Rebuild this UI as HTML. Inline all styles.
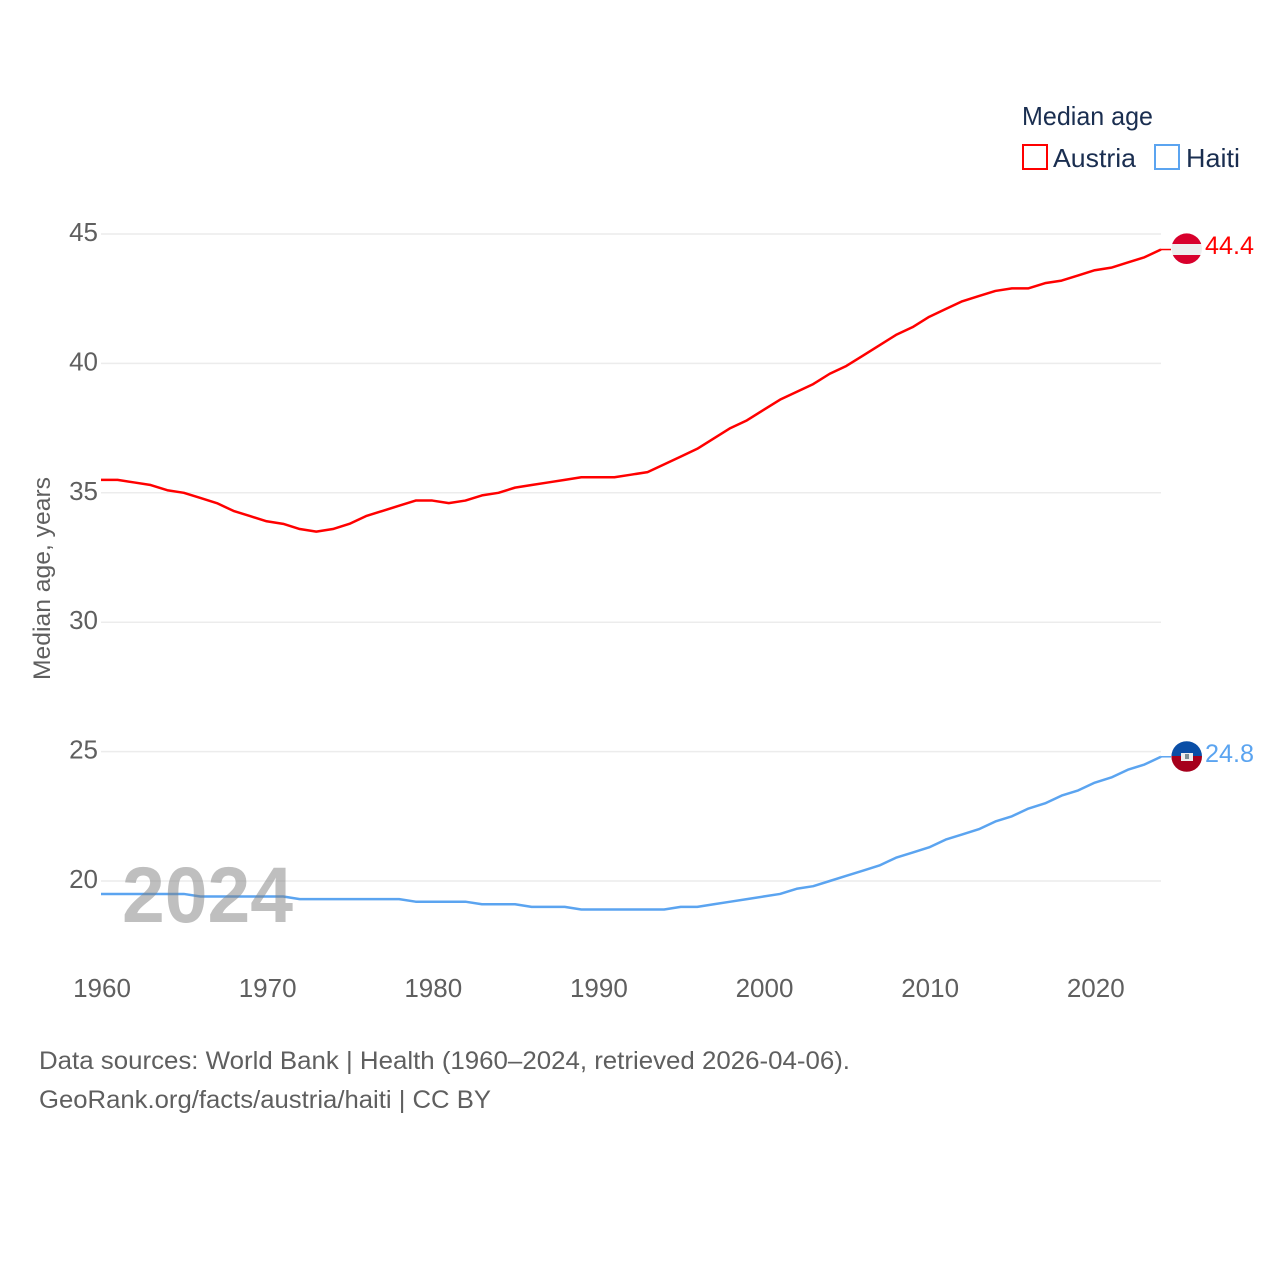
<!DOCTYPE html>
<html lang="en">
<head>
<meta charset="utf-8">
<title>Median age: Austria and Haiti</title>
<style>
html,body{margin:0;padding:0;background:#fff;width:1280px;height:1280px;overflow:hidden}
svg{display:block;font-family:"Liberation Sans",sans-serif}
</style>
</head>
<body>
<svg id="chart" xmlns="http://www.w3.org/2000/svg" width="1280" height="1280" viewBox="0 0 1280 1280">
  <defs>
    <clipPath id="austria-clip"><circle cx="1186.7" cy="248.7" r="15.3"/></clipPath>
    <clipPath id="haiti-clip"><circle cx="1186.7" cy="756.5" r="15.3"/></clipPath>
  </defs>
  <g id="grid"></g>
  <g id="yticks"></g>
  <g id="xticks"></g>
  <text transform="translate(50,680) rotate(-90)" font-size="24" fill="#5f5f5f" textLength="203" lengthAdjust="spacingAndGlyphs">Median age, years</text>
  <g id="series"></g>
  <text x="122" y="922" font-size="79" font-weight="bold" fill="#808080" fill-opacity="0.5" textLength="171" lengthAdjust="spacingAndGlyphs">2024</text>

  <g clip-path="url(#austria-clip)">
    <rect x="1171" y="233" width="32" height="11" fill="#d8002c"/>
    <rect x="1171" y="244" width="32" height="11" fill="#eeeeee"/>
    <rect x="1171" y="255" width="32" height="10" fill="#d8002c"/>
  </g>
  <g clip-path="url(#haiti-clip)">
    <rect x="1171" y="741" width="32" height="15" fill="#0a4ea6"/>
    <rect x="1171" y="756" width="32" height="17" fill="#a6001c"/>
    <rect x="1181" y="753" width="12" height="8" fill="#eeeeee"/>
    <rect x="1185" y="754" width="4" height="5" fill="#7d8f96"/>
  </g>
  <text id="austria-end-label" x="1205" y="254" font-size="25" fill="#ff0000" textLength="49" lengthAdjust="spacingAndGlyphs"></text>
  <text id="haiti-end-label" x="1205" y="762" font-size="25" fill="#5ba4f0" textLength="49" lengthAdjust="spacingAndGlyphs"></text>

  <g>
    <text x="1022" y="125" font-size="26" fill="#1a2e50" textLength="131" lengthAdjust="spacingAndGlyphs">Median age</text>
    <g>
      <rect x="1023" y="145" width="24" height="24" fill="#fff" stroke="#ff0000" stroke-width="2"/>
      <text x="1053" y="167" font-size="26" fill="#1a2e50" textLength="83" lengthAdjust="spacingAndGlyphs">Austria</text>
    </g>
    <g>
      <rect x="1155" y="145" width="24" height="24" fill="#fff" stroke="#5ba4f0" stroke-width="2"/>
      <text x="1186" y="167" font-size="26" fill="#1a2e50" textLength="54" lengthAdjust="spacingAndGlyphs">Haiti</text>
    </g>
  </g>

  <text x="39" y="1069" font-size="25" fill="#5f5f5f" textLength="811" lengthAdjust="spacingAndGlyphs">Data sources: World Bank | Health (1960–2024, retrieved 2026-04-06).</text>
  <text x="39" y="1108" font-size="25" fill="#5f5f5f" textLength="452" lengthAdjust="spacingAndGlyphs">GeoRank.org/facts/austria/haiti | CC BY</text>
</svg>
<script>
const NS = 'http://www.w3.org/2000/svg';
const firstYear = 1960;
const lastYear = 2024;
const yTickValues = [20, 25, 30, 35, 40, 45];
const xTickValues = [1960, 1970, 1980, 1990, 2000, 2010, 2020];
const austriaValues = [35.5,35.5,35.4,35.3,35.1,35.0,34.8,34.6,34.3,34.1,33.9,33.8,33.6,33.5,33.6,33.8,34.1,34.3,34.5,34.7,34.7,34.6,34.7,34.9,35.0,35.2,35.3,35.4,35.5,35.6,35.6,35.6,35.7,35.8,36.1,36.4,36.7,37.1,37.5,37.8,38.2,38.6,38.9,39.2,39.6,39.9,40.3,40.7,41.1,41.4,41.8,42.1,42.4,42.6,42.8,42.9,42.9,43.1,43.2,43.4,43.6,43.7,43.9,44.1,44.4];
const haitiValues = [19.5,19.5,19.5,19.5,19.5,19.5,19.4,19.4,19.4,19.4,19.4,19.4,19.3,19.3,19.3,19.3,19.3,19.3,19.3,19.2,19.2,19.2,19.2,19.1,19.1,19.1,19.0,19.0,19.0,18.9,18.9,18.9,18.9,18.9,18.9,19.0,19.0,19.1,19.2,19.3,19.4,19.5,19.7,19.8,20.0,20.2,20.4,20.6,20.9,21.1,21.3,21.6,21.8,22.0,22.3,22.5,22.8,23.0,23.3,23.5,23.8,24.0,24.3,24.5,24.8];

function xScale(year) { return 101 + (year - firstYear) * (1161 - 101) / (lastYear - firstYear); }
function yScale(v) { return 881 - (v - 20) * (881 - 234) / 25; }

const gridG = document.getElementById('grid');
const yG = document.getElementById('yticks');
const xG = document.getElementById('xticks');
const seriesG = document.getElementById('series');

yTickValues.forEach(function (v) {
  const line = document.createElementNS(NS, 'line');
  
  
  line.setAttribute('x1', 101);
  line.setAttribute('x2', 1161);
  line.setAttribute('y1', yScale(v));
  line.setAttribute('y2', yScale(v));
  line.setAttribute('stroke', '#ececec');
  line.setAttribute('stroke-width', 1.5);
  gridG.appendChild(line);

  const label = document.createElementNS(NS, 'text');
  
  
  label.setAttribute('x', 98);
  label.setAttribute('y', yScale(v) + 7);
  label.setAttribute('text-anchor', 'end');
  label.setAttribute('font-size', 26);
  label.setAttribute('fill', '#5f5f5f');
  label.textContent = v;
  yG.appendChild(label);
});

xTickValues.forEach(function (yr) {
  const label = document.createElementNS(NS, 'text');
  
  
  label.setAttribute('x', xScale(yr) + 1);
  label.setAttribute('y', 997);
  label.setAttribute('text-anchor', 'middle');
  label.setAttribute('font-size', 26);
  label.setAttribute('fill', '#5f5f5f');
  label.textContent = yr;
  xG.appendChild(label);
});

function drawSeries(values, color, name) {
  const pts = values.map(function (v, i) {
    return xScale(firstYear + i).toFixed(2) + ',' + yScale(v).toFixed(2);
  }).join(' ');
  const path = document.createElementNS(NS, 'polyline');
  
  
  path.setAttribute('points', pts);
  path.setAttribute('fill', 'none');
  path.setAttribute('stroke', color);
  path.setAttribute('stroke-width', 2.5);
  path.setAttribute('stroke-linejoin', 'round');
  seriesG.appendChild(path);

  const lastY = yScale(values[values.length - 1]);
  const connector = document.createElementNS(NS, 'line');
  
  
  connector.setAttribute('x1', xScale(lastYear));
  connector.setAttribute('x2', 1171);
  connector.setAttribute('y1', lastY);
  connector.setAttribute('y2', lastY);
  connector.setAttribute('stroke', color);
  connector.setAttribute('stroke-width', 1.5);
  seriesG.appendChild(connector);
}

drawSeries(austriaValues, '#ff0000', 'austria');
drawSeries(haitiValues, '#5ba4f0', 'haiti');

document.getElementById('austria-end-label').textContent = austriaValues[austriaValues.length - 1].toFixed(1);
document.getElementById('haiti-end-label').textContent = haitiValues[haitiValues.length - 1].toFixed(1);
</script>
</body>
</html>
